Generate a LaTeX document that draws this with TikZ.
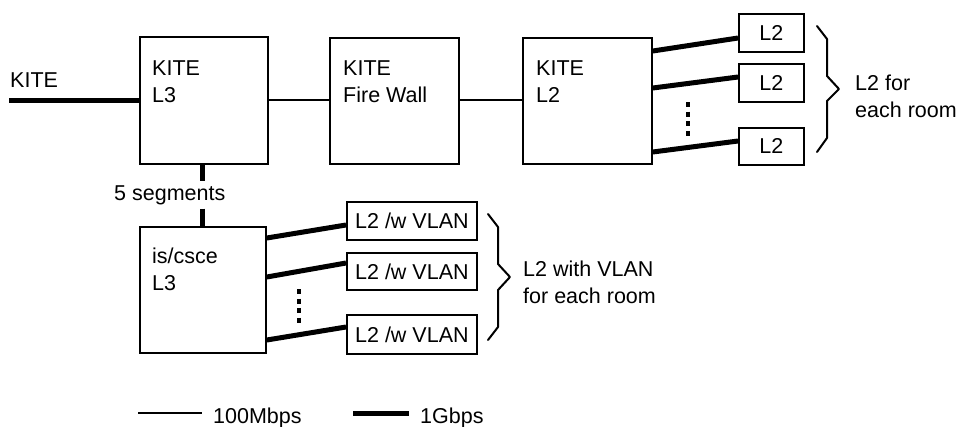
\documentclass[tikz,border=0pt]{standalone}
\usepackage{fontspec}
\setmainfont{Liberation Sans}
\usetikzlibrary{calc}
\begin{document}
\begin{tikzpicture}[x=1pt,y=-1pt,
  every node/.style={font=\fontsize{21.5}{27}\selectfont},
  box/.style={draw=black,line width=1.8pt,rectangle,inner sep=0pt,anchor=north west},
  txt/.style={inner sep=0pt,anchor=base west,align=left},
  thin/.style={line width=1.5pt},
  thick/.style={line width=5pt},
  dotline/.style={line width=4.5pt,dash pattern=on 5pt off 4.6pt},
  bracepath/.style={line width=2pt,line join=round,line cap=round}]
\useasboundingbox (0,0) rectangle (966,426);
% big boxes
\node[box,minimum width=128pt,minimum height=127pt] (l3) at (139,36) {};
\node[box,minimum width=129pt,minimum height=126pt] (fw) at (329,37) {};
\node[box,minimum width=129pt,minimum height=126pt] (kl2) at (522,37) {};
\node[box,minimum width=126pt,minimum height=126pt] (csce) at (139,226) {};
\node[txt] (l3t) at (152,102) {KITE\\L3};
\node[txt] (fwt) at (343,102) {KITE\\Fire Wall};
\node[txt] (kl2t) at (536,102) {KITE\\L2};
\node[txt] (cscet) at (152,290) {is/csce\\L3};
% small L2 boxes
\node[box,minimum width=65pt,minimum height=38pt] (a1) at (738,13) {};
\node[box,minimum width=65pt,minimum height=38pt] (a2) at (738,63) {};
\node[box,minimum width=65pt,minimum height=37pt] (a3) at (738,127) {};
\node at (a1.center) {L2};
\node at (a2.center) {L2};
\node at (a3.center) {L2};
% VLAN boxes
\node[box,minimum width=130pt,minimum height=38pt] (v1) at (346,201) {};
\node[box,minimum width=130pt,minimum height=37pt] (v2) at (346,252) {};
\node[box,minimum width=130pt,minimum height=39pt] (v3) at (346,314) {};
\node at (v1.center) {L2 /w VLAN};
\node at (v2.center) {L2 /w VLAN};
\node at (v3.center) {L2 /w VLAN};
% KITE input
\node[txt] (kite) at (10,87) {KITE};
\coordinate (kin) at (9,100);
\draw[thick] (kin) -- (kin -| l3.west);
% thin links
\draw[thin] (l3.east |- 0,100) -- (fw.west |- 0,100);
\draw[thin] (fw.east |- 0,100) -- (kl2.west |- 0,100);
% 5 segments
\node[txt,inner xsep=0pt,inner ysep=4pt,fill=white] (seg) at (114,200) {5 segments};
\draw[thick] ([xshift=-1pt]l3.south) -- ([xshift=-1pt]l3.south |- seg.north);
\draw[thick] ([xshift=-1pt]l3.south |- seg.south) -- ([xshift=-1pt]l3.south |- csce.north);
% thick links to L2
\draw[thick] ([yshift=-14pt]kl2.north east) -- ([yshift=-25pt]a1.north west);
\draw[thick] ([yshift=-51pt]kl2.north east) -- ([yshift=-14pt]a2.north west);
\draw[thick] ([yshift=-115pt]kl2.north east) -- ([yshift=-14pt]a3.north west);
\draw[dotline] (688,102) -- (688,137);
% thick links to VLAN
\draw[thick] ([yshift=-12pt]csce.north east) -- ([yshift=-24pt]v1.north west);
\draw[thick] ([yshift=-51pt]csce.north east) -- ([yshift=-11pt]v2.north west);
\draw[thick] ([yshift=-114pt]csce.north east) -- ([yshift=-13pt]v3.north west);
\draw[dotline] (299,289) -- (299,324);
% braces
\draw[bracepath] (817,26) -- (827,39) -- (827,76) -- (839,89) -- (827,101) -- (827,138) -- (817,152);
\node[txt] (b1) at (855,117) {L2 for\\each room};
\draw[bracepath] (488,214) -- (498,227) -- (498,264) -- (510,277) -- (498,290) -- (498,327) -- (488,340);
\node[txt] (b2) at (523,303) {L2 with VLAN\\for each room};
% legend
\coordinate (lg1a) at (138,413);
\coordinate (lg1b) at (202,413);
\draw[thin] (lg1a) -- (lg1b);
\node[txt] (lt1) at (213,423) {100Mbps};
\coordinate (lg2a) at (353,413);
\coordinate (lg2b) at (409,413);
\draw[thick] (lg2a) -- (lg2b);
\node[txt] (lt2) at (420,423) {1Gbps};
\end{tikzpicture}
\end{document}
